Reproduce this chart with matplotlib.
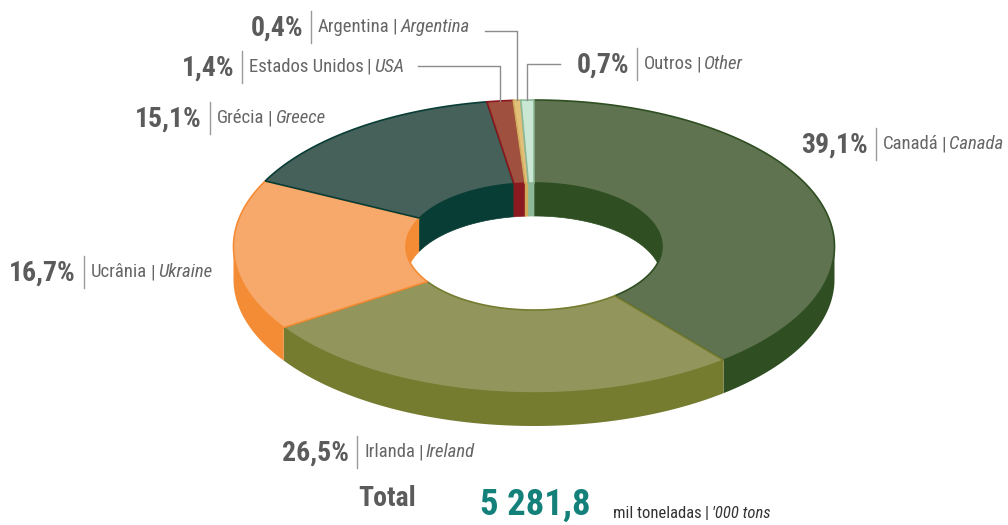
"""3D-style donut: import share by origin country."""
import numpy as np
import matplotlib
matplotlib.use("Agg")
import matplotlib.pyplot as plt
from matplotlib.patches import Polygon
from matplotlib import font_manager

# ---- data ----
countries_pt = ["Canadá", "Irlanda", "Ucrânia", "Grécia", "Estados Unidos", "Argentina", "Outros"]
countries_en = ["Canada", "Ireland", "Ukraine", "Greece", "USA", "Argentina", "Other"]
shares = [39.1, 26.5, 16.7, 15.1, 1.4, 0.4, 0.7]
total_value = "5 281,8"
total_unit_pt = "mil toneladas"
total_unit_en = "'000 tons"

# ---- style ----
TOP_COLORS = ["#5f7350", "#93965c", "#f7a96b", "#46615a", "#a0503f", "#e3c07a", "#c9e7d3"]
SIDE_COLORS = ["#2f4f22", "#757b2f", "#f48c35", "#083d35", "#8a1a1f", "#d2ab5c", "#8db897"]

# label anchor: (x of separator, y centre); leader line start (x, y)
LABEL_POS = {
    "Canadá": (876, 144),
    "Irlanda": (357, 452),
    "Ucrânia": (84, 272),
    "Grécia": (210, 118),
    "Estados Unidos": (242, 67),
    "Argentina": (311, 27),
    "Outros": (637, 64),
}
LEADERS = {"Estados Unidos": (418, 66), "Argentina": (485, 31), "Outros": (560, 64)}

CX, CY = 534, 246.5
RX, RY = 300.5, 146.5
RIX, RIY = 128, 63.5
DEPTH = 33

avail = {f.name for f in font_manager.fontManager.ttflist}
FONT = next((f for f in ["Liberation Sans Narrow", "Roboto Condensed", "Roboto"] if f in avail), "DejaVu Sans")
plt.rcParams["font.family"] = [FONT, "DejaVu Sans"]

PCT_COLOR = "#5b5b5b"
NAME_COLOR = "#666666"
SEP_COLOR = "#9a9a9a"


def arc(a0, a1, rx, ry, dy=0.0, n=120):
    t = np.radians(np.linspace(a0, a1, n))
    return np.column_stack([CX + rx * np.sin(t), CY - ry * np.cos(t) + dy])


def clip(a0, a1, lo, hi):
    s, e = max(a0, lo), min(a1, hi)
    return (s, e) if e > s else None


fig = plt.figure(figsize=(10.08, 5.25), dpi=100)
ax = fig.add_axes([0, 0, 1, 1])
ax.set_xlim(0, 1008)
ax.set_ylim(525, 0)
ax.axis("off")

bounds = np.concatenate([[0], np.cumsum(shares)]) / sum(shares) * 360.0
mids = {}

# side walls first
for i, v in enumerate(shares):
    a0, a1 = bounds[i], bounds[i + 1]
    mids[countries_pt[i]] = (a0 + a1) / 2
    seg = clip(a0, a1, 90, 270)
    if seg:
        top = arc(seg[0], seg[1], RX, RY)
        bot = arc(seg[1], seg[0], RX, RY, DEPTH)
        ax.add_patch(Polygon(np.vstack([top, bot]), closed=True, fc=SIDE_COLORS[i], ec="none", zorder=1))
    for lo, hi in [(0, 90), (270, 360)]:
        seg = clip(a0, a1, lo, hi)
        if seg:
            top = arc(seg[0], seg[1], RIX, RIY)
            bot = arc(seg[1], seg[0], RIX, RIY, DEPTH)
            ax.add_patch(Polygon(np.vstack([top, bot]), closed=True, fc=SIDE_COLORS[i], ec=SIDE_COLORS[i], lw=0.5, zorder=1))

# top faces
for i, v in enumerate(shares):
    a0, a1 = bounds[i], bounds[i + 1]
    pts = np.vstack([arc(a0, a1, RX, RY), arc(a1, a0, RIX, RIY)])
    ax.add_patch(Polygon(pts, closed=True, fc=TOP_COLORS[i], ec=SIDE_COLORS[i], lw=1.2, zorder=2))

renderer = fig.canvas.get_renderer()


def seq_text(x, y, parts, size, color):
    for s, style, gap in parts:
        t = ax.text(x, y, s, fontsize=size, color=color, style=style, ha="left", va="center", zorder=5)
        w = t.get_window_extent(renderer=renderer).width
        x += w + gap
    return x


def label(name_pt, name_en, value):
    sx, sy = LABEL_POS[name_pt]
    pct = f"{value:.1f}".replace(".", ",") + "%"
    ax.text(sx - 8, sy + 1, pct, fontsize=20, fontweight="bold", color=PCT_COLOR,
            ha="right", va="center", zorder=5)
    ax.plot([sx, sx], [sy - 16, sy + 16], color=SEP_COLOR, lw=1, zorder=5)
    seq_text(sx + 7, sy, [(name_pt, "normal", 3), ("|", "normal", 3), (name_en, "italic", 0)], 13.5, NAME_COLOR)


for p, e, v in zip(countries_pt, countries_en, shares):
    label(p, e, v)

# leader lines for the thin slices
for name, (lx, ly) in LEADERS.items():
    a = mids[name]
    ex, ey = arc(a, a, RX, RY, n=1)[0]
    ax.plot([lx, ex, ex], [ly, ly, ey], color="#8c8c8c", lw=1, zorder=4)

# total
ax.text(387, 498, "Total", fontsize=20, fontweight="bold", color=PCT_COLOR, ha="center", va="center")
ax.text(535, 505, total_value, fontsize=26.5, fontweight="bold", color="#13807a", ha="center", va="center")
seq_text(613, 514, [(total_unit_pt, "normal", 3), ("|", "normal", 3), (total_unit_en, "italic", 0)], 12, "#333333")

fig.savefig("out.png", dpi=100)
